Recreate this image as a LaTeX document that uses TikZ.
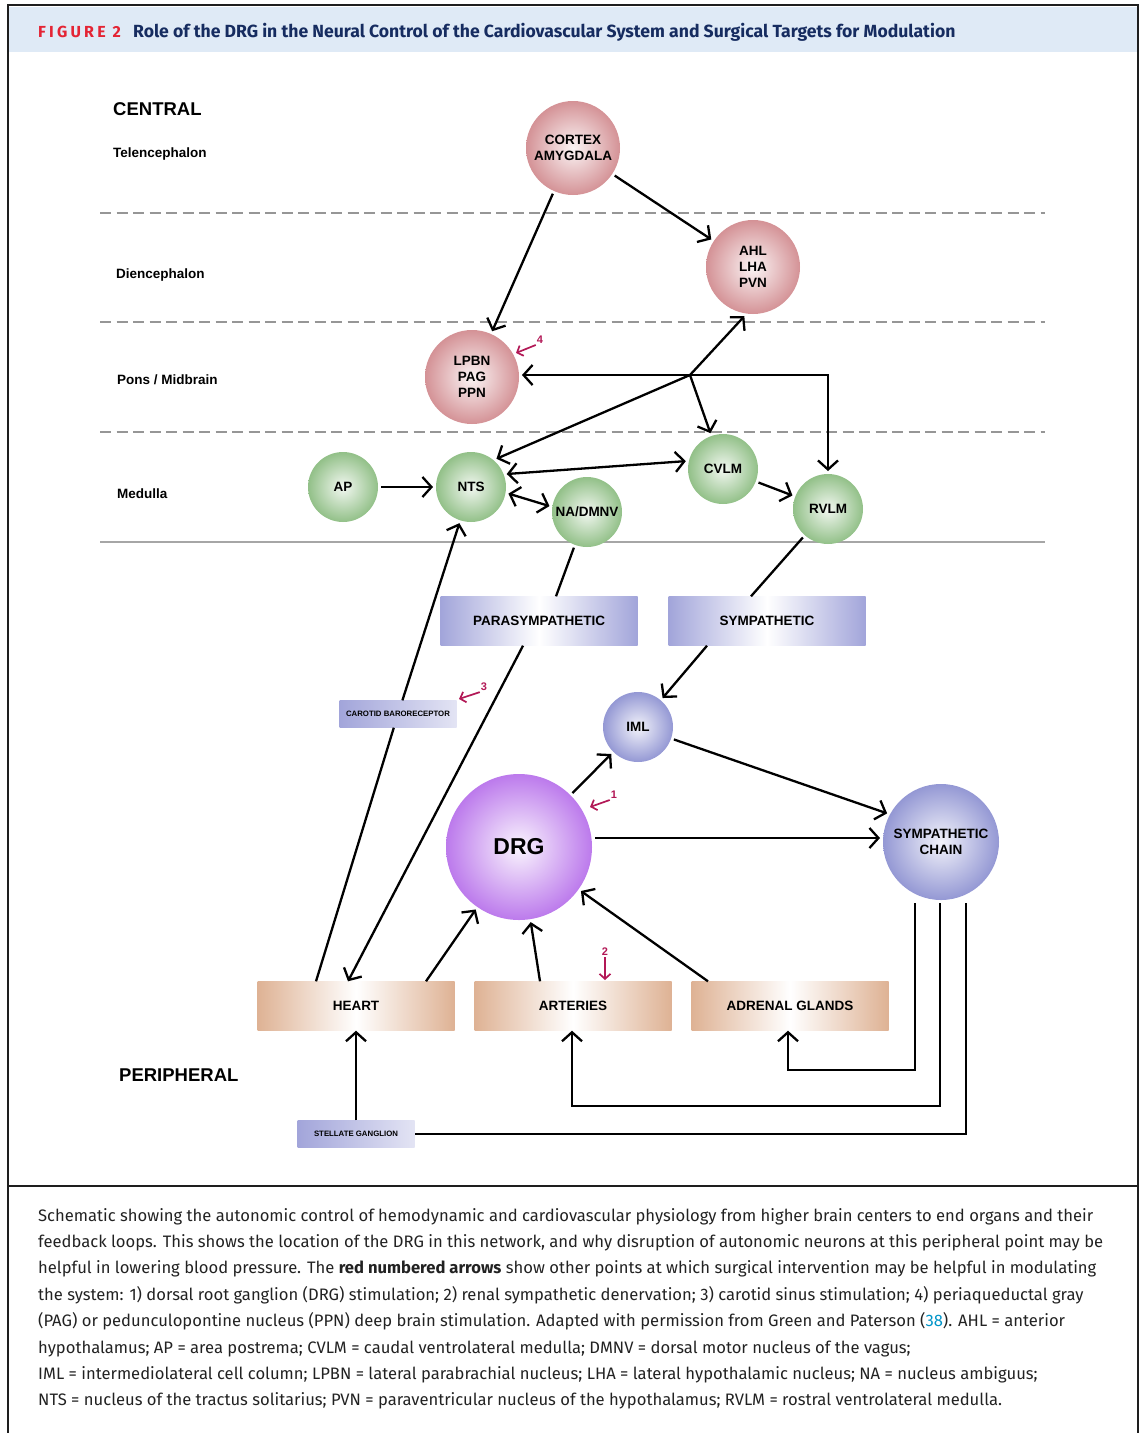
\documentclass[tikz,border=0pt]{standalone}
\usepackage{fontspec}
\setmainfont{Liberation Sans}
\newfontfamily\headfont{Fira Sans}
\newfontfamily\capfont{Fira Sans}
\usetikzlibrary{arrows.meta,positioning}

\definecolor{cframe}{RGB}{30,30,30}
\definecolor{cband}{RGB}{223,234,246}
\definecolor{cfig}{RGB}{228,36,52}
\definecolor{ctitle}{RGB}{22,44,96}
\definecolor{cdash}{RGB}{150,150,150}
\definecolor{cpink}{RGB}{212,146,150}
\definecolor{cgreen}{RGB}{146,192,136}
\definecolor{clav}{RGB}{148,152,212}
\definecolor{cviolet}{RGB}{188,122,236}
\definecolor{cbox}{RGB}{162,165,218}
\definecolor{cpeach}{RGB}{222,178,148}
\definecolor{cmark}{RGB}{178,24,86}
\definecolor{clink}{RGB}{0,148,200}
\definecolor{ctext}{RGB}{34,34,34}

\tikzset{
  orb/.style={circle,minimum size=#1,inner sep=0pt,outer sep=3pt,align=center,
    font=\bfseries\fontsize{13.5}{16}\selectfont},
  pinkorb/.style={orb=94pt,inner color=cpink!10,outer color=cpink},
  greenorb/.style={orb=70pt,inner color=cgreen!12,outer color=cgreen},
  lavorb/.style={orb=#1,inner color=clav!12,outer color=clav},
  tract/.style={rectangle,minimum width=197pt,minimum height=49pt,inner sep=0pt,
    left color=cbox,right color=cbox,middle color=white,
    font=\bfseries\fontsize{13.5}{16}\selectfont},
  organ/.style={tract,left color=cpeach,right color=cpeach,middle color=white},
  tag/.style={rectangle,minimum width=117pt,minimum height=27pt,inner sep=0pt,
    left color=cbox,right color=cbox!30,font=\bfseries\fontsize{7.8}{9}\selectfont},
  zone/.style={anchor=base west,inner sep=0pt,font=\bfseries\fontsize{13.5}{16}\selectfont},
  region/.style={zone,font=\bfseries\fontsize{18.5}{22}\selectfont},
  arr/.style={line width=2.3pt,-{Straight Barb[length=9pt,width=20pt]}},
  dbl/.style={line width=2.3pt,{Straight Barb[length=9pt,width=20pt]}-{Straight Barb[length=9pt,width=20pt]}},
  tie/.style={line width=2.3pt},
  layer/.style={cdash,line width=1.8pt,dash pattern=on 11pt off 5.5pt},
  num/.style={inner sep=1pt,text=cmark,font=\bfseries\fontsize{11}{12}\selectfont},
  redarr/.style={cmark,line width=1.7pt,-{Straight Barb[length=5pt,width=11pt]}}
}

\begin{document}
\begin{tikzpicture}[x=1pt,y=-1pt]
%
\useasboundingbox (0,0) rectangle (1142,1433);
%
\fill[cband] (9,7) rectangle (1137,52);
\draw[cframe,line width=2pt] (8,1433) -- (8,5) -- (1138,5) -- (1138,1433);
\draw[cframe,line width=2pt] (8,1186) -- (1138,1186);
\node[anchor=base west,inner sep=0pt,text=cfig,
  font=\headfont\bfseries\fontsize{16}{18}\selectfont\addfontfeature{LetterSpace=20}] (fig) at (38,37) {FIGURE 2};
\node[anchor=base west,inner sep=0pt,text=ctitle,
  font=\headfont\bfseries\fontsize{17.6}{20}\selectfont] (title) at (133,37)
  {Role of the DRG in the Neural Control of the Cardiovascular System and Surgical Targets for Modulation};
%
\foreach \y in {213,322,432}
  \draw[layer] (100,\y) -- (1045,\y);
\draw[cdash!85,line width=1.8pt] (100,542) -- (1045,542);
%
\node[region] (central) at (113,115) {CENTRAL};
\node[zone] (tel) at (113,157) {Telencephalon};
\node[zone] (dien) at (116,278) {Diencephalon};
\node[zone] (pons) at (117,384) {Pons / Midbrain};
\node[zone] (med) at (117,498) {Medulla};
\node[region] (peri) at (119,1081) {PERIPHERAL};
%
\node[pinkorb] (cortex) at (573,148) {CORTEX\\AMYGDALA};
\node[pinkorb] (ahl) at (753,267) {AHL\\LHA\\PVN};
\node[pinkorb] (lpbn) at (472,377) {LPBN\\PAG\\PPN};
\node[greenorb] (ap) at (343,487) {AP};
\node[greenorb] (nts) at (471,487) {NTS};
\node[greenorb] (na) at (587,512) {NA/DMNV};
\node[greenorb] (cvlm) at (723,469) {CVLM};
\node[greenorb] (rvlm) at (828,509) {RVLM};
\node[tract] (para) at (539,621) {PARASYMPATHETIC};
\node[tract] (symp) at (767,621) {SYMPATHETIC};
\node[lavorb=70pt] (iml) at (638,727) {IML};
\node[orb=146pt,inner color=cviolet!8,outer color=cviolet,
  font=\bfseries\fontsize{23}{26}\selectfont] (drg) at (519,847) {DRG};
\node[lavorb=116pt] (chain) at (941,842) {SYMPATHETIC\\CHAIN};
\node[organ] (heart) at (356,1006) {HEART};
\node[organ] (art) at (573,1006) {ARTERIES};
\node[organ] (adr) at (790,1006) {ADRENAL GLANDS};
\node[tag] (stel) at (356,1134) {STELLATE GANGLION};
\node[tag] (carotid) at (398,714) {CAROTID BARORECEPTOR};
\coordinate (hub) at (690,375);
%
\draw[arr] (cortex) -- (lpbn);
\draw[arr] (cortex) -- (ahl);
\draw[arr] (hub) -- (ahl.260);
\draw[arr] (hub) -- (nts.48);
\draw[arr] (hub) -- (cvlm);
\draw[arr] (hub) -- (hub -| lpbn.east);
\draw[arr] (hub) -| (rvlm);
\draw[arr] (ap) -- (nts);
\draw[dbl] (nts.20) -- (cvlm.168);
\draw[dbl] (nts.-10) -- (na.171);
\draw[arr] (cvlm) -- (rvlm);
\draw[tie] (na) -- ([xshift=17pt]para.north);
\draw[arr] ([xshift=-16pt]para.south) -- ([xshift=-8pt]heart.north);
\draw[tie] (rvlm) -- ([xshift=-16pt]symp.north);
\draw[arr] ([xshift=-60pt]symp.south) -- (iml);
\draw[tie] ([xshift=-40pt]heart.north) -- (carotid);
\draw[arr] (carotid) -- (nts);
\draw[arr] ([xshift=70pt]heart.north) -- (drg);
\draw[arr] ([xshift=-33pt]art.north) -- (drg);
\draw[arr] ([xshift=-82pt]adr.north) -- (drg);
\draw[arr] (drg) -- (iml);
\draw[arr] ([yshift=9pt]drg.east) -- ([yshift=9pt]drg.east -| chain.west);
\draw[arr] (iml) -- (chain.152);
\draw[arr] ([xshift=-26pt]chain.south) |- ([xshift=-2pt,yshift=-39pt]adr.south) -- ([xshift=-2pt]adr.south);
\draw[arr] ([xshift=-1pt]chain.south) |- ([xshift=-1pt,yshift=-75pt]art.south) -- ([xshift=-1pt]art.south);
\draw[tie] ([xshift=25pt]chain.south) |- (stel.east);
\draw[arr] (stel) -- (heart);
%
\node[num] (n4) at (540,340) {4};
\coordinate (t4) at (516,353);
\draw[redarr] (n4.south west) -- (t4);
\node[num] (n3) at (484,687) {3};
\coordinate (t3) at (459,699);
\draw[redarr] (n3.south west) -- (t3);
\node[num] (n1) at (614,795) {1};
\coordinate (t1) at (590,807);
\draw[redarr] (n1.south west) -- (t1);
\node[num] (n2) at (605,952) {2};
\coordinate (t2) at (605,980);
\draw[redarr] (n2) -- (t2);
%
\node[anchor=north west,inner sep=0pt,align=left,text=ctext,
  font=\capfont\fontsize{16.6}{26.4}\selectfont] (caption) at (38,1208)
  {Schematic showing the autonomic control of hemodynamic and cardiovascular physiology from higher brain centers to end organs and their\\
  feedback loops. This shows the location of the DRG in this network, and why disruption of autonomic neurons at this peripheral point may be\\
  helpful in lowering blood pressure. The \textbf{red numbered arrows} show other points at which surgical intervention may be helpful in modulating\\
  the system: 1) dorsal root ganglion (DRG) stimulation; 2) renal sympathetic denervation; 3) carotid sinus stimulation; 4) periaqueductal gray\\
  (PAG) or pedunculopontine nucleus (PPN) deep brain stimulation. Adapted with permission from Green and Paterson (\textcolor{clink}{38}). AHL = anterior\\
  hypothalamus; AP = area postrema; CVLM = caudal ventrolateral medulla; DMNV = dorsal motor nucleus of the vagus;\\
  IML = intermediolateral cell column; LPBN = lateral parabrachial nucleus; LHA = lateral hypothalamic nucleus; NA = nucleus ambiguus;\\
  NTS = nucleus of the tractus solitarius; PVN = paraventricular nucleus of the hypothalamus; RVLM = rostral ventrolateral medulla.};
%
\end{tikzpicture}
\end{document}
